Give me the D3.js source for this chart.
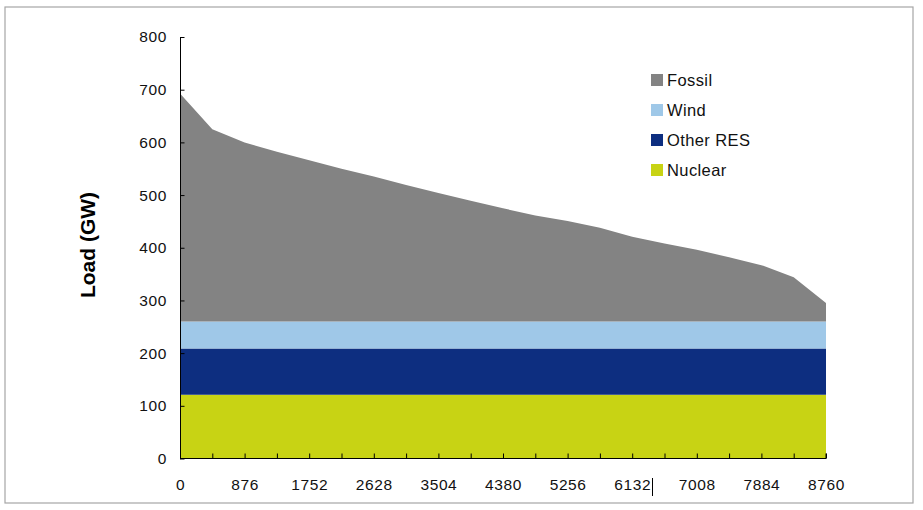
<!DOCTYPE html>
<html><head><meta charset="utf-8">
<script src="https://cdn.jsdelivr.net/npm/d3@7"></script>
<style>body{margin:0;background:#fff;} svg{display:block;}</style>
</head><body>
<script>
// Data
const hours = [0,438,876,1314,1752,2190,2628,3066,3504,3942,4380,4818,5256,5694,6132,6570,7008,7446,7884,8322,8760];
const totalLoad = [693,625,600,582,566,550,535,519,504,489,475,461,451,438,421,408,396,382,367,344,295];
const nuclear = 121;
const otherRES = 88;
const wind = 51;
const seriesNames = ["Nuclear","Other RES","Wind","Fossil"];
const seriesColors = ["#c8d314","#0d2e80","#9fc8e8","#838383"];
const legendOrder = ["Fossil","Wind","Other RES","Nuclear"];
const yTicks = [0,100,200,300,400,500,600,700,800];
const xTickLabels = [0,876,1752,2628,3504,4380,5256,6132,7008,7884,8760];

const rows = hours.map((h,i)=>({h, "Nuclear":nuclear, "Other RES":otherRES, "Wind":wind, "Fossil":totalLoad[i]-nuclear-otherRES-wind}));

const W=923,H=510;
const svg=d3.select("body").append("svg").attr("width",W).attr("height",H);
svg.append("rect").attr("x",5).attr("y",7).attr("width",908).attr("height",496)
  .attr("fill","#fff").attr("stroke","#a6a6a6").attr("stroke-width",1.2);

const x=d3.scaleLinear().domain([0,8760]).range([180,826]);
const y=d3.scaleLinear().domain([0,800]).range([458.5,37]);

const stack=d3.stack().keys(seriesNames)(rows);
const area=d3.area().x(d=>x(d.data.h)).y0(d=>y(d[0])).y1(d=>y(d[1]));
svg.selectAll("path.layer").data(stack).join("path").attr("class","layer")
  .attr("d",area).attr("fill",(d,i)=>seriesColors[i]);

const font="'Liberation Sans', Arial, sans-serif";
// Y axis
const yAxis=d3.axisLeft(y).tickValues(yTicks).tickSize(-4.5).tickPadding(13);
const gy=svg.append("g").attr("transform","translate(180,0)").call(yAxis);
gy.select(".domain").attr("d","M0.5,37V458.5");
gy.selectAll("text").attr("font-family",font).attr("font-size",15.5).attr("letter-spacing",0.6).attr("fill","#111");

// X axis
const xTickVals=d3.range(0,8760+1,438);
const xAxis=d3.axisBottom(x).tickValues(xTickVals).tickSize(-5).tickPadding(20)
  .tickFormat(d=>xTickLabels.includes(d)?d:"");
const gx=svg.append("g").attr("transform","translate(0,458.5)").call(xAxis);
gx.select(".domain").attr("d","M180,0H826V-5");
gx.selectAll("text").attr("font-family",font).attr("font-size",15.5).attr("letter-spacing",0.6).attr("fill","#111");
svg.selectAll(".tick line").attr("stroke","#000");

// cursor artifact
svg.append("line").attr("x1",652.5).attr("x2",652.5).attr("y1",478).attr("y2",496).attr("stroke","#000");

// Y label
svg.append("text").attr("transform","translate(95,245) rotate(-90)").attr("text-anchor","middle")
  .attr("font-family",font).attr("font-weight","bold").attr("font-size",21).attr("fill","#000").text("Load (GW)");

// Legend
const lg=svg.append("g");
legendOrder.forEach((name,i)=>{
  const c=seriesColors[seriesNames.indexOf(name)];
  lg.append("rect").attr("x",651).attr("y",74+i*30).attr("width",12).attr("height",12).attr("fill",c);
  lg.append("text").attr("x",667).attr("y",86+i*30).attr("font-family",font).attr("font-size",16.5)
    .attr("letter-spacing",0.4).attr("fill","#111").text(name);
});
</script>
</body></html>
